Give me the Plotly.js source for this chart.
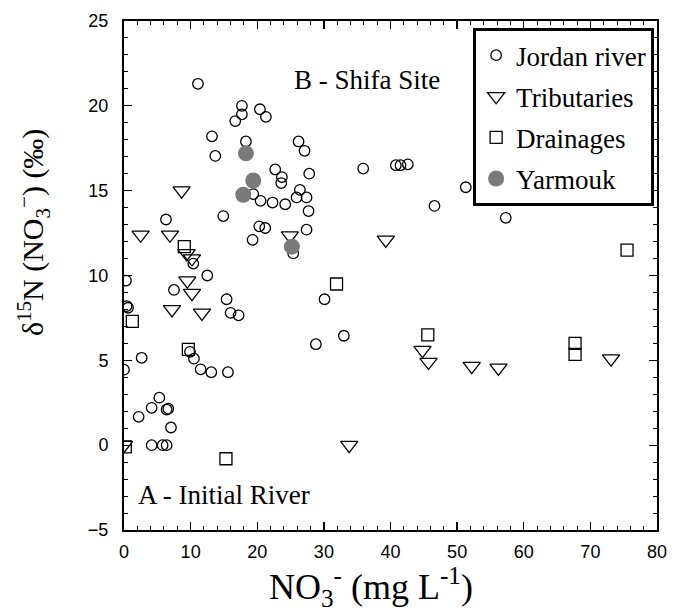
<!DOCTYPE html>
<html><head><meta charset="utf-8">
<script src="https://cdn.plot.ly/plotly-3.0.1.min.js"></script>
<style>body{margin:0;background:#fff}#c{width:689px;height:612px}</style>
</head><body><div id="c"></div>
<script>
// Jordan river
const jordanX = [11.1,17.7,17.7,16.7,20.4,21.3,13.2,13.7,18.3,22.7,23.7,23.6,26.2,27.1,27.8,35.9,40.8,41.5,42.6,26.4,25.9,27.4,51.3,57.3,46.6,24.2,27.7,27.4,25.4,30.1,33.0,28.8,19.4,20.5,22.3,6.3,14.9,20.3,21.2,19.3,10.4,12.5,0.3,7.5,0.4,0.6,15.4,16.0,17.2,9.9,2.65,0.0,10.5,11.5,13.1,15.6,5.3,4.15,6.4,6.65,2.2,7.05,4.15,5.8,6.4];
const jordanY = [21.3,20.0,19.5,19.1,19.8,19.35,18.2,17.05,17.9,16.25,15.8,15.45,17.9,17.35,16.0,16.3,16.5,16.5,16.55,15.05,14.6,14.6,15.2,13.4,14.1,14.2,13.8,12.7,11.3,8.6,6.45,5.95,14.8,14.4,14.3,13.3,13.5,12.9,12.8,12.1,10.7,10.0,9.7,9.15,8.2,8.1,8.6,7.8,7.65,5.5,5.15,4.45,5.1,4.47,4.3,4.3,2.8,2.2,2.1,2.15,1.67,1.04,0.0,0.0,0.0];
// Tributaries
const tribX = [0.0,2.5,6.9,8.65,7.2,9.4,10.2,9.5,10.2,11.7,24.9,39.3,33.8,44.8,45.7,52.2,56.2,73.1];
const tribY = [0.0,12.4,12.4,15.0,8.0,11.3,11.0,9.7,8.96,7.8,12.35,12.1,0.0,5.6,4.9,4.66,4.55,5.1];
// Drainages
const drainX = [0.2,1.25,9.05,9.66,15.3,31.9,45.6,67.7,67.7,75.5];
const drainY = [-0.1,7.3,11.7,5.65,-0.8,9.5,6.5,6.0,5.35,11.5];
// Yarmouk
const yarX = [18.3,19.4,17.9,25.2];
const yarY = [17.2,15.6,14.76,11.7];

const serif = 'Liberation Serif, Times New Roman, serif';
const sans = 'Liberation Sans, Arial, sans-serif';

const traces = [
  {x: jordanX, y: jordanY, name: 'Jordan river', legendgroup:'a', mode:'markers', type:'scatter',
   marker:{symbol:'circle-open', size:10.5, color:'#000', line:{width:1.3, color:'#000'}}},
  {x: tribX, y: tribY, name: 'Tributaries', legendgroup:'b', mode:'markers', type:'scatter',
   marker:{symbol:'triangle-down-open', size:15, color:'#000', line:{width:1.3, color:'#000'}}},
  {x: drainX, y: drainY, name: 'Drainages', legendgroup:'c', mode:'markers', type:'scatter',
   marker:{symbol:'square-open', size:12, color:'#000', line:{width:1.3, color:'#000'}}},
  {x: yarX, y: yarY, name: 'Yarmouk', legendgroup:'d', mode:'markers', type:'scatter',
   marker:{symbol:'circle', size:16, color:'#7a7a7a'}}
];

const layout = {
  width: 689, height: 612,
  margin: {l:124, r:32, t:21, b:82},
  paper_bgcolor:'#fff', plot_bgcolor:'#fff',
  font: {family: sans, color:'#000'},
  showlegend: true,
  legend: {x:0.655, y:0.986, xanchor:'left', yanchor:'top', bgcolor:'#fff',
    bordercolor:'#000', borderwidth:3, font:{family:serif, size:27, color:'#000'},
    traceorder:'grouped', tracegroupgap:3, itemsizing:'trace'},
  xaxis: {range:[0,80], dtick:10, tick0:0, showgrid:false, zeroline:false,
    showline:true, linecolor:'#000', linewidth:2, mirror:'ticks',
    ticks:'inside', ticklen:8, tickwidth:1.3, tickcolor:'#000', ticklabelstandoff:4,
    minor:{dtick:2, ticks:'inside', ticklen:4, tickwidth:1, tickcolor:'#000'},
    tickfont:{family:sans, size:18, color:'#000'}},
  yaxis: {range:[-5,25], dtick:5, tick0:0, showgrid:false, zeroline:false,
    showline:true, linecolor:'#000', linewidth:2, mirror:'ticks',
    ticks:'inside', ticklen:8, tickwidth:1.3, tickcolor:'#000', ticklabelstandoff:10,
    minor:{dtick:1, ticks:'inside', ticklen:4, tickwidth:1, tickcolor:'#000'},
    tickfont:{family:sans, size:18, color:'#000'}},
  annotations: [
    {x:25.2, y:21.5, xref:'x', yref:'y', text:'B - Shifa Site', showarrow:false, xanchor:'left',
     font:{family:serif, size:27, color:'#000'}},
    {x:1.8, y:-2.95, xref:'x', yref:'y', text:'A - Initial River', showarrow:false, xanchor:'left',
     font:{family:serif, size:27, color:'#000'}},
    {x:0.463, y:-0.112, xref:'paper', yref:'paper', xanchor:'center', yanchor:'middle', showarrow:false,
     text:'NO<sub>3</sub><sup>-</sup> (mg L<sup>-1</sup>)', font:{family:serif, size:36, color:'#000'}},
    {x:-0.171, y:0.585, xref:'paper', yref:'paper', xanchor:'center', yanchor:'middle', showarrow:false,
     textangle:-90, text:'δ<sup>15</sup>N (NO<sub>3</sub><sup>−</sup>) (‰)', font:{family:serif, size:30, color:'#000'}}
  ]
};

Plotly.newPlot('c', traces, layout, {displayModeBar:false, staticPlot:true});
</script>
</body></html>
